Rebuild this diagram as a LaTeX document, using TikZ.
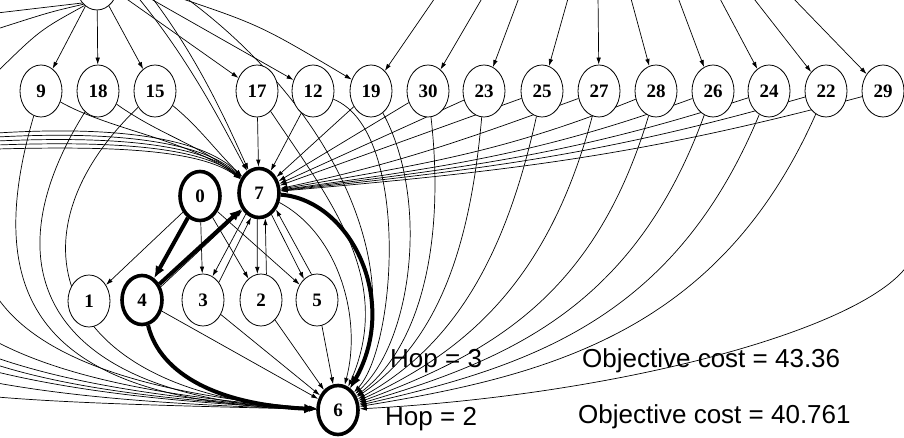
\documentclass[tikz,border=0pt]{standalone}
\usepackage{fontspec}
\setmainfont{Liberation Serif}
\newfontfamily\notefont{Liberation Sans}
\usetikzlibrary{shapes.geometric,arrows.meta,backgrounds}
\tikzset{
  vx/.style={ellipse, draw, fill=white, line width=0.8pt, minimum width=42pt,
    minimum height=52pt, inner sep=0pt, font=\fontsize{19}{19}\selectfont\bfseries},
  hvx/.style={vx, line width=3.6pt, minimum width=40pt, minimum height=49pt},
  ed/.style={line width=0.7pt, -{Latex[length=7pt,width=4.5pt]}},
  ln/.style={line width=0.7pt},
  hed/.style={line width=4pt, -{Latex[length=12pt,width=10pt]}},
  note/.style={font=\notefont\fontsize{26}{26}\selectfont, anchor=base west, inner sep=0pt},
}
\begin{document}
\begin{tikzpicture}[x=1pt,y=1pt]
\useasboundingbox (0,0) rectangle (904,-438);
\clip (0,0) rectangle (904,-438);

% ---------- vertices ----------
\node[vx] (src) at (97,16) {};
\node[vx] (n9)  at (41,-91)  {9};
\node[vx] (n18) at (98,-91)  {18};
\node[vx] (n15) at (155,-91) {15};
\node[vx] (n17) at (257,-91) {17};
\node[vx] (n12) at (313,-91) {12};
\node[vx] (n19) at (371,-91) {19};
\node[vx] (n30) at (428,-91) {30};
\node[vx] (n23) at (484,-91) {23};
\node[vx] (n25) at (542,-91) {25};
\node[vx] (n27) at (599,-91) {27};
\node[vx] (n28) at (656,-91) {28};
\node[vx] (n26) at (713,-91) {26};
\node[vx] (n24) at (769,-91) {24};
\node[vx] (n22) at (826,-91) {22};
\node[vx] (n29) at (883,-91) {29};

\node[hvx] (n0) at (200,-196) {0};
\node[hvx] (n7) at (259,-193) {7};

\node[vx]  (n1) at (89,-301)  {1};
\node[hvx] (n4) at (142,-300) {4};
\node[vx]  (n3) at (203,-300) {3};
\node[vx]  (n2) at (261,-300) {2};
\node[vx]  (n5) at (317,-300) {5};
\node[hvx] (n6) at (338,-410) {6};

% ---------- free ends of edges leaving the page ----------
\coordinate (ul1) at (-3,-13);
\coordinate (ul2) at (-3,-29);
\coordinate (ul3) at (-3,-72);
\coordinate (t17) at (121,5);
\coordinate (t12) at (144,5);
\coordinate (t19a) at (171,5);
\coordinate (ta7) at (136,5);
\coordinate (tb7) at (150,5);
\coordinate (tc6) at (182,5);
\coordinate (t19) at (437,5);
\coordinate (t30) at (484,5);
\coordinate (t23) at (520,5);
\coordinate (t25) at (569,5);
\coordinate (t27) at (598,5);
\coordinate (t28) at (630,5);
\coordinate (t26) at (677,5);
\coordinate (t24) at (718,5);
\coordinate (t22) at (751,5);
\coordinate (t29) at (790,5);
\coordinate (lb1) at (-3,-133);
\coordinate (lb2) at (-3,-137);
\coordinate (lb3) at (-3,-141);
\coordinate (lb4) at (-3,-145);
\coordinate (lb5) at (-3,-149);
\coordinate (L1) at (-3,-297);
\coordinate (L2) at (-3,-342);
\coordinate (L3) at (-3,-358);
\coordinate (L4) at (-3,-365);
\coordinate (L5) at (-3,-372);
\coordinate (L6) at (-3,-383);
\coordinate (L7) at (-3,-397);
\coordinate (R1) at (907,-266);

\begin{scope}[on background layer]
\fill[white] (0,0) rectangle (904,-438);

% edges from above into the upper row
\draw[ed] (src) -- (n9);
\draw[ed] (src) -- (n18);
\draw[ed] (src) -- (n15);
\draw[ln] (src.232) -- (ul1);
\draw[ln] (src.236) .. controls (50,-12) .. (ul2);
\draw[ln] (src.240) .. controls (40,-30) .. (ul3);
\draw[ed] (t17) -- (n17);
\draw[ed] (t12) -- (n12);
\draw[ed] (t19a) .. controls (260,-25) .. (n19);
\draw[ed] (t19) -- (n19);
\draw[ed] (t30) -- (n30);
\draw[ed] (t23) -- (n23);
\draw[ed] (t25) -- (n25);
\draw[ed] (t27) -- (n27);
\draw[ed] (t28) -- (n28);
\draw[ed] (t26) -- (n26);
\draw[ed] (t24) -- (n24);
\draw[ed] (t22) -- (n22);
\draw[ed] (t29) -- (n29);

% edges into vertex 7
\draw[ed] (lb1) .. controls (110,-126) and (200,-136) .. (n7);
\draw[ed] (lb2) .. controls (110,-131) and (200,-140) .. (n7);
\draw[ed] (lb3) .. controls (110,-136) and (200,-143) .. (n7);
\draw[ed] (lb4) .. controls (110,-141) and (200,-146) .. (n7);
\draw[ed] (lb5) .. controls (110,-146) and (200,-149) .. (n7);
\draw[ed] (n9)  .. controls (110,-130) and (190,-140) .. (n7);
\draw[ed] (n18) .. controls (160,-135) and (200,-145) .. (n7);
\draw[ed] (n15) .. controls (200,-128) and (215,-150) .. (n7);
\draw[ed] (ta7) .. controls (190,-60) and (225,-130) .. (n7);
\draw[ed] (tb7) .. controls (200,-60) and (230,-130) .. (n7);
\draw[ed] (n17) -- (n7);
\draw[ed] (n12) -- (n7);
\draw[ed] (n19) -- (n7);
\draw[ed] (n30) -- (n7);
\draw[ed] (n23) -- (n7);
\draw[ed] (n25) -- (n7);
\draw[ed] (n27) to[out=200, in=12] (n7);
\draw[ed] (n28) to[out=202, in=10] (n7);
\draw[ed] (n26) to[out=200, in=8] (n7);
\draw[ed] (n24) to[out=198, in=7] (n7);
\draw[ed] (n22) to[out=196, in=6] (n7);
\draw[ed] (n29) to[out=195, in=5] (n7);

% edges among the middle vertices
\draw[ed] (n0) -- (n1);
\draw[ed] (n0) -- (n3);
\draw[ed] (n0) -- (n2);
\draw[ed] (n0) -- (n5);
\draw[ed] (n7.238) -- (n3.68);
\draw[ed] (n3.48) -- (n7.252);
\draw[ed] (n7.266) -- (n2.98);
\draw[ed] (n2.78) -- (n7.284);
\draw[ed] (n7.300) -- (n5.122);
\draw[ed] (n5.102) -- (n7.316);
\draw[ed] (n4.35) -- (n7.226);

% edges into vertex 6 from the middle row
\draw[ed] (n4) -- (n6);
\draw[ed] (n3) -- (n6);
\draw[ed] (n2) -- (n6);
\draw[ed] (n5) -- (n6);
\draw[ed] (n7.335) .. controls (340,-235) and (362,-320) .. (n6);

% edges into vertex 6 around the left
\draw[ed] (n9)  .. controls (-20,-300) and (40,-402) .. (n6);
\draw[ed] (n18) .. controls (-20,-280) and (60,-400) .. (n6);
\draw[ed] (n15) .. controls (0,-240) and (60,-396) .. (n6);
\draw[ed] (L1) .. controls (40,-360) and (150,-395) .. (n6);
\draw[ed] (L2) .. controls (60,-375) and (160,-398) .. (n6);
\draw[ed] (L3) .. controls (70,-383) and (170,-400) .. (n6);
\draw[ed] (L4) .. controls (70,-388) and (170,-401) .. (n6);
\draw[ed] (L5) .. controls (80,-392) and (180,-403) .. (n6);
\draw[ed] (L6) .. controls (80,-398) and (180,-405) .. (n6);
\draw[ed] (L7) .. controls (80,-404) and (190,-406) .. (n6);

% edges into vertex 6 around the right
\draw[ed] (n17) .. controls (330,-200) and (395,-280) .. (n6);
\draw[ed] (tc6) .. controls (340,-110) and (410,-280) .. (n6);
\draw[ed] (n12) .. controls (410,-130) and (397,-345) .. (n6);
\draw[ed] (n19) .. controls (430,-200) and (412,-341) .. (n6);
\draw[ed] (n30) .. controls (445,-240) and (422,-345) .. (n6);
\draw[ed] (n23) .. controls (470,-250) and (437,-342) .. (n6);
\draw[ed] (n25) .. controls (505,-260) and (452,-347) .. (n6);
\draw[ed] (n27) .. controls (550,-275) and (472,-349) .. (n6);
\draw[ed] (n28) .. controls (595,-295) and (492,-353) .. (n6);
\draw[ed] (n26) .. controls (635,-305) and (512,-359) .. (n6);
\draw[ed] (n24) .. controls (675,-318) and (532,-366) .. (n6);
\draw[ed] (n22) .. controls (720,-330) and (552,-375) .. (n6);
\draw[ed] (R1) .. controls (860,-330) and (620,-395) .. (n6);

% the two marked routes
\draw[hed] (n0) -- (n4);
\draw[hed] (n4) -- (n7);
\draw[hed] (n4) .. controls (160,-375) and (220,-405) .. (n6);
\draw[hed] (n7) .. controls (350,-200) and (400,-300) .. (n6);
\end{scope}

% ---------- labels ----------
\node[note] (hop3) at (390,-367) {Hop = 3};
\node[note] (hop2) at (385,-425) {Hop = 2};
\node[note] (cost3) at (582,-367) {Objective cost = 43.36};
\node[note] (cost2) at (578,-423) {Objective cost = 40.761};
\end{tikzpicture}
\end{document}
